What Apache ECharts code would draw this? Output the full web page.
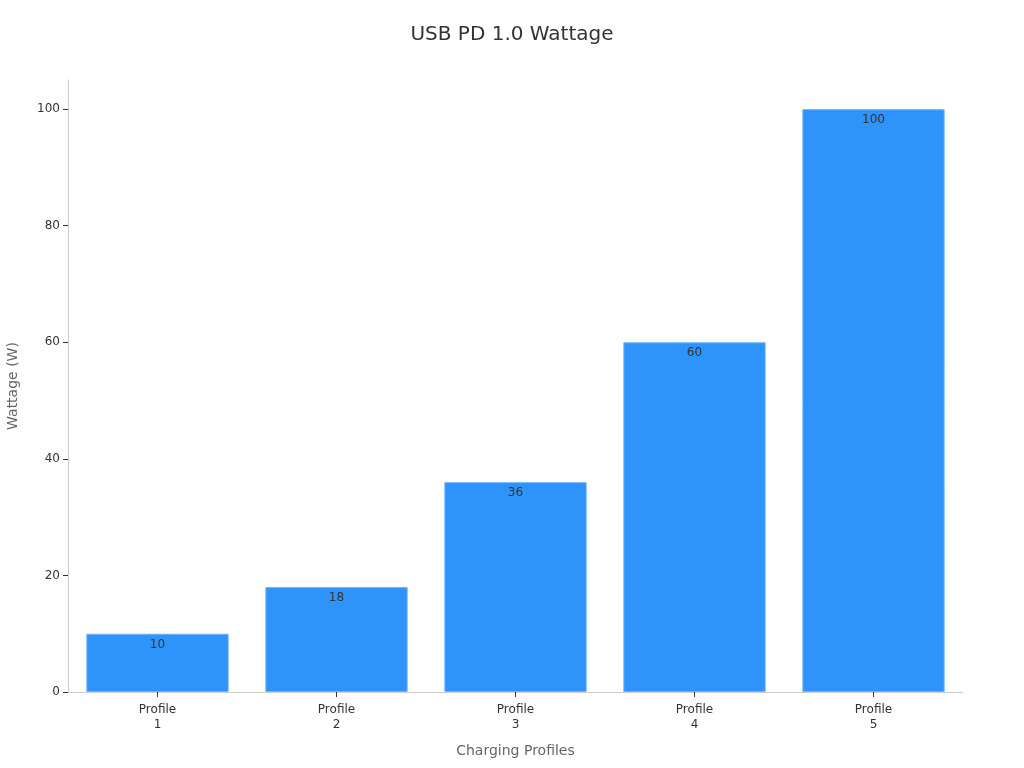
<!DOCTYPE html>
<html><head><meta charset="utf-8">
<script src="https://cdn.jsdelivr.net/npm/echarts@6/dist/echarts.min.js"></script>
<style>html,body{margin:0;padding:0;background:#fff}#c{width:1024px;height:768px}</style>
</head><body><div id="c"></div>
<script>
const categories = ['Profile\n1','Profile\n2','Profile\n3','Profile\n4','Profile\n5'];
const wattage = [10, 18, 36, 60, 100];
const yTicks = [0, 20, 40, 60, 80, 100];
const chart = echarts.init(document.getElementById('c'));
chart.setOption({
  animation: false,
  textStyle: { fontFamily: 'DejaVu Sans' },
  title: { text: 'USB PD 1.0 Wattage', left: 'center', top: 20, textStyle: { fontSize: 20, fontWeight: 'normal', color: '#333', fontFamily: 'DejaVu Sans' } },
  grid: { left: 68, right: 61, top: 80, bottom: 76, containLabel: false, outerBoundsMode: 'none' },
  xAxis: {
    type: 'category', data: categories,
    name: 'Charging Profiles', nameLocation: 'middle', nameGap: 52,
    nameTextStyle: { fontSize: 14, color: '#666' },
    axisLine: { lineStyle: { color: '#ccc' } },
    axisTick: { show: true, alignWithLabel: true, length: 5, lineStyle: { color: '#333' } },
    axisLabel: { color: '#333', fontSize: 12, lineHeight: 15, margin: 10 }
  },
  yAxis: {
    type: 'value', min: 0, max: 105, interval: 20,
    name: 'Wattage (W)', nameLocation: 'middle', nameGap: 48,
    nameTextStyle: { fontSize: 14, color: '#666' },
    splitLine: { show: false },
    axisLine: { show: true, lineStyle: { color: '#ccc' } },
    axisTick: { show: true, length: 5, customValues: yTicks, lineStyle: { color: '#333' } },
    axisLabel: { color: '#333', fontSize: 12, customValues: yTicks }
  },
  series: [{
    type: 'bar', data: wattage, barCategoryGap: '20.5%',
    itemStyle: { color: '#2E93FA', borderColor: '#6CB4FB', borderWidth: 1 },
    label: { show: true, position: 'insideTop', color: '#333', fontSize: 12 }
  }]
});
</script></body></html>
